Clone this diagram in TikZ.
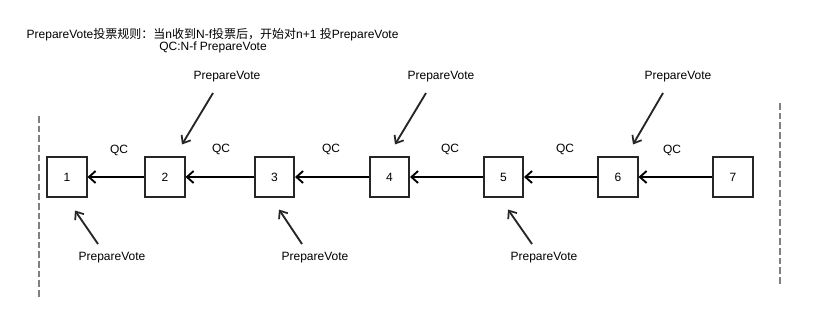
\documentclass[tikz,border=0pt]{standalone}
\usepackage{fontspec}
\setmainfont{Liberation Sans}
\newfontfamily\cjk{Noto Sans CJK SC}
\usetikzlibrary{arrows.meta,calc}
\begin{document}
\begin{tikzpicture}[x=0.75pt,y=-0.75pt,font=\fontsize{9}{11}\selectfont,
  blk/.style={draw=black!85,line width=1.5pt,minimum size=29.3pt,inner sep=0pt},
  link/.style={line width=1.7pt,-{Straight Barb[length=5pt,width=9pt,line width=1.4pt]}},
  vote/.style={line width=1.4pt,black!85,-{Straight Barb[length=5pt,width=8pt,line width=1.3pt]}},
  sep/.style={gray,line width=1.5pt,dash pattern=on 5pt off 2.25pt}]
\useasboundingbox (0,0) rectangle (824,322);
\node[anchor=west] (rule) at (22,35) {PrepareVote{\cjk 投票规则：当}n{\cjk 收到}N-f{\cjk 投票后，开始对}n+1 {\cjk 投}PrepareVote};
\node (qcdef) at (213,47) {QC:N-f PrepareVote};
\draw[sep] (39,116) -- (39,297);
\draw[sep] (780,103) -- (780,285);
\node[blk] (b1) at (67,177) {1};
\node[blk] (b2) at (165,177) {2};
\node[blk] (b3) at (274.5,177) {3};
\node[blk] (b4) at (389.5,177) {4};
\node[blk] (b5) at (503.5,177) {5};
\node[blk] (b6) at (618,177) {6};
\node[blk] (b7) at (733,177) {7};
\draw[link] (b2) -- (b1);
\draw[link] (b3) -- (b2);
\draw[link] (b4) -- (b3);
\draw[link] (b5) -- (b4);
\draw[link] (b6) -- (b5);
\draw[link] (b7) -- (b6);
\node (q12) at (119,150) {QC};
\node (q23) at (221,149) {QC};
\node (q34) at (331,149) {QC};
\node (q45) at (450,149) {QC};
\node (q56) at (565,149) {QC};
\node (q67) at (672,150) {QC};
\node (pv2) at (227,77) {PrepareVote};
\node (pv4) at (441,77) {PrepareVote};
\node (pv6) at (678,77) {PrepareVote};
\node (pv1) at (112,258) {PrepareVote};
\node (pv3) at (315,258) {PrepareVote};
\node (pv5) at (544,258) {PrepareVote};
\draw[vote] ($(pv2)+(-14,16)$) -- ($(b2.north)+(17,-12)$);
\draw[vote] ($(pv4)+(-15,16)$) -- ($(b4.north)+(5.5,-12)$);
\draw[vote] ($(pv6)+(-15,16)$) -- ($(b6.north)+(15,-12)$);
\draw[vote] ($(pv1)+(-14,-14)$) -- ($(b1.south)+(8,13)$);
\draw[vote] ($(pv3)+(-13,-14)$) -- ($(b3.south)+(4.5,12)$);
\draw[vote] ($(pv5)+(-12,-14)$) -- ($(b5.south)+(4.5,12)$);
\end{tikzpicture}
\end{document}
